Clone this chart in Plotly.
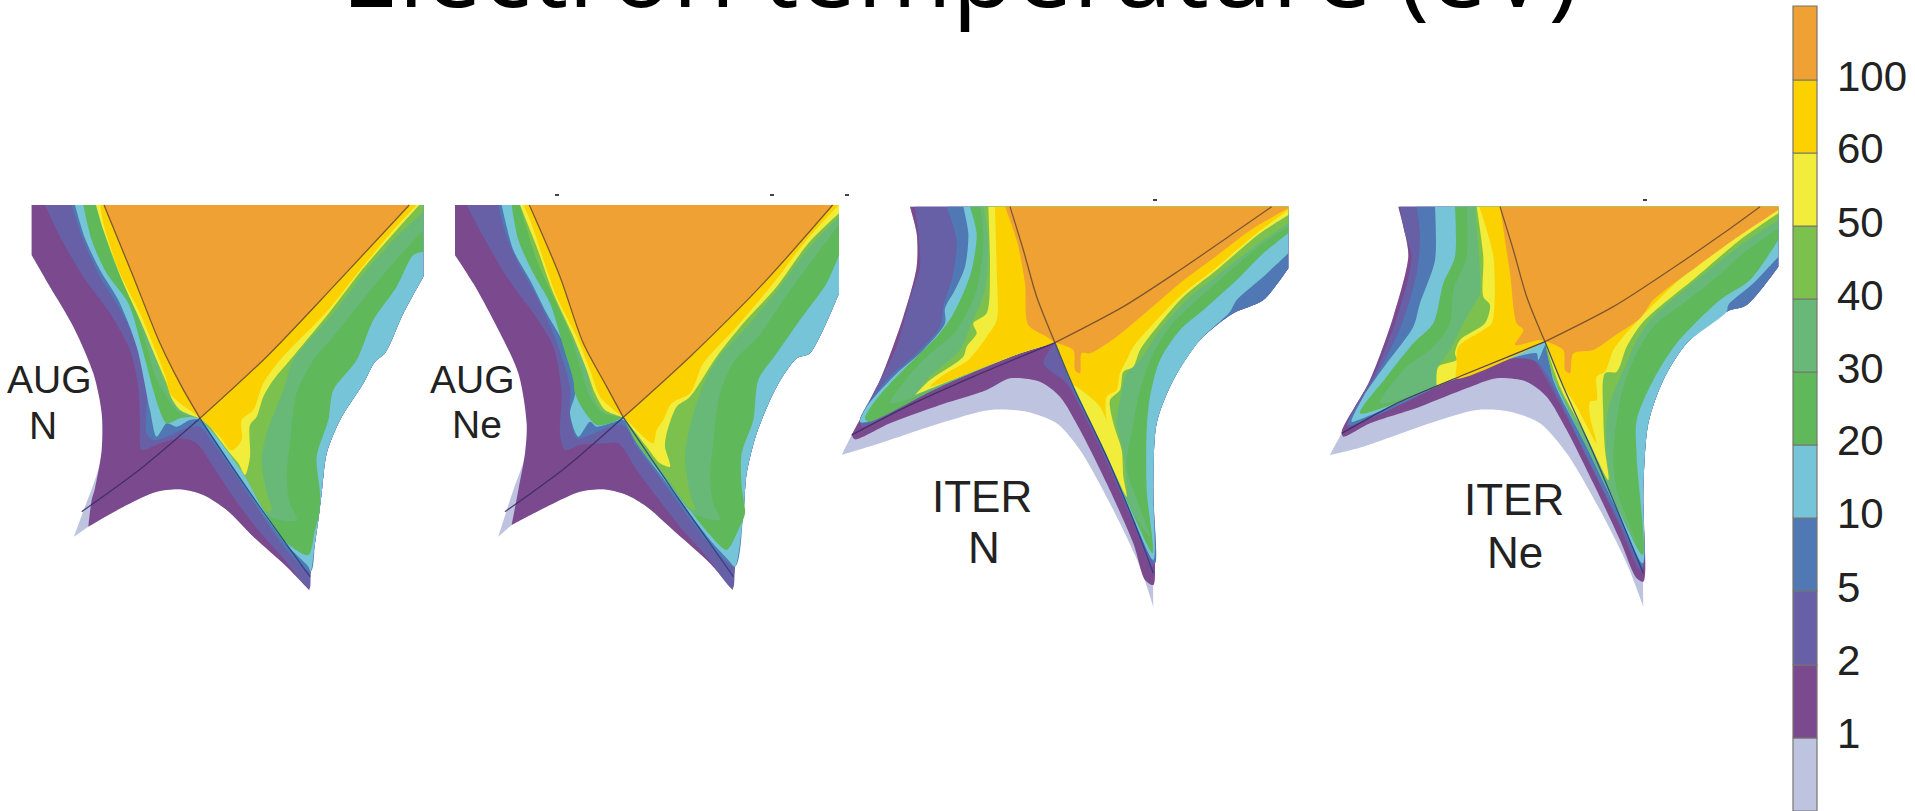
import plotly.graph_objects as go

COLORS = ["#bec4e0", "#7b4a8e", "#6860a6", "#4f78b5", "#76c4d8", "#5fb85a", "#68b978", "#7cc14e", "#f2ed3b", "#fbd200", "#efa233"]
TICK_LABELS = ["1", "2", "5", "10", "20", "30", "40", "50", "60", "100"]
BAR_EDGES = [811, 738, 665, 591, 518, 445, 372, 299, 226, 153, 80, 6]
TICK_Y = [733, 660, 587, 513, 440, 368, 295, 222, 148, 76]

A1_RIGHT = [(1270,290),(1210,400),(1155,520),(1125,545),(1090,610),(1020,720),(980,820),(965,940),(955,1020),(945,1090),(932,1175)]
A1 = [
 [(95,75),(1270,75)] + A1_RIGHT + [(928,1230),(860,1160),(760,1070),(680,990),(610,945),(540,928),(470,935),(380,975),(265,1040),(222,1070),(255,980),(285,900),(312,800),(312,700),(285,580),(225,440),(150,320),(95,225)],
 [(95,75),(1270,75)] + A1_RIGHT + [(928,1230),(860,1160),(760,1070),(680,990),(610,945),(540,928),(470,935),(380,975),(265,1040),(275,960),(285,925),(305,810),(305,700),(280,580),(220,440),(150,320),(95,225)],
 [(135,75),(1270,75)] + A1_RIGHT + [(928,1225),(850,1135),(770,1045),(700,950),(640,860),(590,790),(545,775),(480,790),(425,810),(420,720),(415,620),(390,510),(330,400),(250,290),(180,170)],
 [(215,75),(1270,75)] + A1_RIGHT + [(860,1110),(800,1025),(700,875),(640,790),(600,740),(560,745),(500,770),(460,780),(440,760),(440,620),(400,470),(350,370),(300,290),(250,180)],
 [(225,75),(1270,75)] + A1_RIGHT + [(925,1160),(860,1095),(800,1015),(700,865),(640,775),(600,720),(570,720),(530,740),(500,730),(470,770),(450,690),(410,500),(355,360),(300,270),(255,175)],
 [(250,75),(1270,75),(1270,215),(1240,225),(1190,320),(1120,420),(1070,540),(1000,630),(985,720),(950,830),(960,940),(958,1000),(945,1050),(925,1125),(850,1080),(800,1005),(730,880),(650,770),(600,715),(580,710),(540,715),(500,730),(475,680),(460,630),(425,500),(385,370),(320,280),(275,180)],
 [(300,75),(1270,75),(1270,150),(1170,260),(1080,370),(1000,470),(940,540),(890,640),(870,790),(860,890),(870,970),(890,1020),(810,1010),(730,880),(650,770),(600,715),(540,700),(500,650),(470,600),(440,500),(400,370),(350,250)],
 [(290,75),(1270,75),(1270,95),(1190,170),(1100,270),(1000,400),(880,540),(850,630),(800,760),(785,840),(800,940),(815,990),(800,995),(730,880),(650,770),(600,715),(540,690),(510,650),(490,600),(450,490),(400,370),(340,240)],
 [(288,75),(1258,75),(1190,150),(1090,265),(990,395),(870,540),(820,600),(790,650),(770,710),(750,735),(750,830),(735,885),(715,850),(690,820),(660,780),(630,740),(600,715),(540,690),(515,655),(500,610),(470,540),(420,420),(370,310),(310,150)],
 [(300,75),(1250,75),(1180,150),(1080,270),(980,395),(840,540),(790,610),(760,690),(725,720),(725,780),(700,810),(690,810),(660,770),(630,740),(605,718),(575,695),(540,670),(510,640),(500,600),(470,520),(420,400),(360,280),(310,130)],
 [(312,75),(1228,75),(1000,320),(800,530),(600,715),(545,620),(480,490),(400,290)],
]
A1_SEP1 = [(312,75),(400,290),(480,490),(545,620),(600,715),(700,865),(800,1010),(930,1190)]
A1_SEP2 = [(1228,75),(1000,320),(800,530),(600,715),(430,860),(245,995)]
A1_SHARP = [(95,75),(1270,75),(1270,290),(928,1230),(222,1070),(265,1040),(95,225),(600,715),(1270,215),(1270,150),(1270,95),(135,75),(215,75),(225,75),(250,75),(300,75),(290,75),(288,75),(1258,75),(1250,75),(312,75),(1228,75)]

A2_RIGHT = [(1227,340),(1140,520),(1100,535),(1040,620),(980,760),(950,880),(940,1000),(915,1160)]
A2 = [
 [(75,75),(1227,75)] + A2_RIGHT + [(908,1230),(840,1150),(740,1060),(650,980),(590,945),(520,928),(450,935),(360,975),(245,1035),(205,1070),(250,930),(285,830),(297,730),(270,580),(200,430),(130,310),(75,225)],
 [(75,75),(1227,75)] + A2_RIGHT + [(908,1230),(840,1150),(740,1060),(650,980),(590,945),(520,928),(450,935),(360,975),(245,1035),(265,930),(285,820),(290,730),(265,580),(195,430),(130,310),(75,225)],
 [(110,75),(1227,75)] + A2_RIGHT + [(908,1225),(830,1130),(750,1040),(680,950),(620,870),(565,790),(520,790),(450,795),(405,810),(390,760),(395,640),(370,500),(310,400),(230,290),(160,170)],
 [(205,75),(1227,75)] + A2_RIGHT + [(840,1095),(760,990),(680,880),(620,800),(580,735),(530,745),(480,765),(440,775),(420,700),(420,620),(370,460),(320,350),(275,270),(230,170)],
 [(215,75),(1227,75)] + A2_RIGHT + [(895,1140),(840,1080),(760,975),(680,870),(620,790),(580,720),(540,730),(500,740),(480,725),(445,770),(420,700),(435,640),(410,510),(350,400),(300,300),(250,210)],
 [(245,75),(1227,75),(1227,225),(1190,310),(1110,420),(1040,520),(985,600),(970,720),(935,820),(935,920),(945,1000),(925,1050),(890,1110),(840,1065),(760,965),(680,865),(620,790),(580,712),(540,730),(500,735),(460,690),(435,640),(430,600),(400,500),(360,370),(310,280),(265,180)],
 [(280,75),(1227,75),(1227,135),(1140,250),(1060,360),(985,470),(915,540),(870,640),(850,790),(840,890),(850,970),(870,1020),(790,1000),(700,885),(620,785),(580,712),(520,700),(480,650),(450,560),(420,460),(380,370),(330,240)],
 [(270,75),(1227,75),(1227,110),(1140,200),(1050,320),(960,430),(860,540),(810,640),(775,760),(765,840),(780,940),(795,990),(780,985),(700,880),(620,785),(580,712),(520,695),(490,650),(470,570),(430,480),(380,370),(320,240)],
 [(270,75),(1227,75),(1227,100),(1135,190),(1040,320),(940,430),(860,530),(780,650),(740,680),(710,760),(705,800),(720,860),(690,850),(650,800),(580,712),(525,690),(495,640),(470,570),(430,470),(370,340),(320,200)],
 [(280,75),(1227,75),(1130,180),(1030,310),(920,440),(820,550),(780,640),(725,670),(700,720),(680,750),(670,790),(640,770),(610,740),(580,712),(540,680),(510,650),(480,570),(440,470),(380,350),(300,120)],
 [(298,75),(1208,75),(1000,310),(780,530),(580,712),(530,620),(460,490),(390,290)],
]
A2_SEP1 = [(298,75),(390,290),(460,490),(530,620),(580,712),(680,860),(780,1005),(910,1190)]
A2_SEP2 = [(1208,75),(1000,310),(780,530),(580,712),(410,860),(225,995)]
A2_SHARP = [(75,75),(1227,75),(1227,340),(908,1230),(205,1070),(245,1035),(75,225),(580,712),(1227,225),(1227,135),(1227,110),(1227,100),(110,75),(205,75),(215,75),(245,75),(280,75),(270,75),(298,75),(1208,75)]

I1_RIGHT = [(1345,235),(1270,330),(1180,370),(1080,450),(1000,570),(950,700),(940,900)]
I1 = [
 [(210,50),(1345,50)] + I1_RIGHT + [(940,1250),(900,1130),(820,960),(720,780),(650,700),(560,665),(450,660),(300,700),(120,760),(5,795),(35,735),(120,570),(190,380),(230,230),(230,130)],
 [(210,50),(1345,50)] + I1_RIGHT + [(945,1110),(940,1185),(915,1170),(880,1060),(800,880),(720,720),(660,620),(600,575),(510,565),(440,600),(300,645),(150,700),(45,748),(35,735),(120,570),(190,380),(230,230),(230,130)],
 [(225,50),(1345,50)] + I1_RIGHT + [(945,1120),(935,1130),(880,1000),(800,815),(720,650),(680,580),(610,520),(645,458),(540,490),(300,590),(65,710),(60,690),(100,610),(170,470),(215,310),(240,230),(235,130)],
 [(320,50),(1345,50)] + I1_RIGHT + [(945,1120),(880,990),(800,800),(690,580),(655,480),(645,458),(540,490),(300,590),(75,700),(60,690),(140,570),(230,490),(300,410),(310,350),(340,250),(350,150)],
 [(370,50),(1345,50),(1345,190),(1270,260),(1190,330),(1170,365),(1080,450),(1000,570),(950,700),(940,900),(940,1110),(880,985),(800,795),(700,590),(645,458),(540,490),(300,590),(75,697),(60,695),(80,650),(160,560),(250,480),(315,400),(315,355),(345,300),(375,230),(385,130)],
 [(390,50),(1345,50),(1345,130),(1270,190),(1190,270),(1090,360),(1020,420),(960,510),(930,620),(920,720),(920,900),(938,1090),(880,975),(800,795),(700,590),(645,458),(540,490),(300,590),(85,695),(75,685),(100,640),(160,570),(230,500),(290,440),(335,380),(370,310),(395,240),(410,130)],
 [(420,50),(1345,50),(1345,110),(1270,160),(1150,260),(1060,340),(990,410),(940,490),(900,600),(880,700),(860,830),(880,900),(930,1040),(880,970),(800,795),(700,590),(645,458),(540,490),(225,620),(150,640),(240,520),(350,420),(410,300),(430,150)],
 [(430,50),(1345,50),(1345,100),(1270,150),(1140,250),(1040,330),(960,420),(900,510),(860,550),(840,630),(830,700),(850,790),(860,920),(800,795),(700,590),(645,458),(540,490),(225,615),(270,560),(360,480),(395,400),(435,300),(445,150)],
 [(445,50),(1345,50),(1345,75),(1260,130),(1130,240),(1030,320),(960,400),(900,480),(880,530),(850,545),(840,600),(810,630),(820,700),(845,780),(850,860),(860,920),(800,795),(720,630),(700,590),(645,458),(540,490),(225,615),(270,570),(370,500),(380,470),(410,430),(400,400),(440,370),(450,240)],
 [(465,50),(1345,50),(1345,60),(1250,130),(1120,240),(1030,310),(950,390),(880,470),(860,510),(840,550),(830,600),(800,620),(800,690),(810,720),(780,650),(710,590),(700,585),(645,458),(540,490),(270,590),(310,555),(385,510),(440,440),(470,390),(470,240)],
 [(495,50),(1345,50),(1345,55),(1240,115),(1120,205),(1020,280),(950,340),(830,440),(750,490),(725,490),(720,550),(705,540),(700,480),(645,458),(620,440),(565,405),(555,280),(530,150)],
]
I1_SEP1 = [(510,50),(550,180),(590,320),(645,458),(700,590),(800,800),(880,990),(940,1150)]
I1_SEP2 = [(1295,50),(1180,130),(1020,240),(850,350),(645,458),(400,560),(200,650),(35,735)]
I1_SHARP = [(210,50),(1345,50),(1345,235),(940,1250),(5,795),(35,735),(645,458),(1345,190),(1345,130),(1345,110),(1345,100),(1345,75),(1345,60),(1345,55),(225,50),(320,50),(370,50),(390,50),(420,50),(430,50),(445,50),(465,50),(495,50),(225,615),(225,620)]

I2_RIGHT = [(1375,230),(1280,345),(1220,365),(1100,460),(1030,570),(985,700),(970,900)]
I2 = [
 [(235,50),(1375,50)] + I2_RIGHT + [(970,1250),(920,1120),(840,960),(740,790),(660,700),(570,665),(470,660),(330,700),(130,770),(30,795),(70,720),(150,570),(220,380),(265,200),(255,130)],
 [(235,50),(1375,50)] + I2_RIGHT + [(970,1175),(950,1165),(900,1050),(820,880),(740,720),(680,620),(620,575),(530,565),(440,595),(300,650),(150,700),(70,740),(65,725),(150,570),(220,380),(265,200),(255,130)],
 [(240,50),(1375,50)] + I2_RIGHT + [(970,1130),(960,1140),(900,1010),(820,840),(740,680),(680,570),(640,510),(580,505),(490,535),(350,590),(90,710),(80,710),(100,660),(165,550),(235,370),(275,200),(255,130)],
 [(290,50),(1375,50)] + I2_RIGHT + [(968,1130),(900,1000),(800,800),(700,590),(650,515),(580,505),(490,535),(350,590),(85,705),(130,620),(200,500),(250,390),(290,250),(300,130)],
 [(345,50),(1375,50),(1375,200),(1300,280),(1225,345),(1220,365),(1100,460),(1030,570),(985,700),(970,900),(968,1120),(900,980),(800,770),(700,570),(680,460),(655,510),(650,490),(575,505),(350,590),(115,690),(95,695),(130,620),(200,520),(280,410),(300,340),(345,210)],
 [(405,50),(1375,50),(1375,150),(1290,270),(1200,330),(1070,460),(1000,570),(950,690),(950,800),(968,1095),(900,970),(800,770),(700,560),(675,455),(350,590),(120,670),(200,560),(280,460),(340,400),(370,280),(405,200)],
 [(440,50),(1375,50),(1375,115),(1270,190),(1180,270),(1090,340),(1000,410),(950,490),(910,590),(890,690),(880,800),(890,900),(950,1060),(900,970),(800,770),(700,560),(675,455),(350,590),(180,640),(260,530),(340,470),(390,400),(400,300),(440,200)],
 [(465,50),(1375,50),(1375,90),(1270,160),(1130,270),(1000,380),(950,450),(920,520),(880,610),(860,680),(860,800),(870,870),(800,740),(700,560),(675,455),(350,590),(350,540),(390,480),(430,400),(470,330),(480,310)],
 [(470,50),(1375,50),(1375,70),(1260,150),(1130,260),(970,395),(920,470),(890,545),(855,550),(850,680),(855,780),(865,870),(800,740),(720,590),(675,455),(350,590),(355,530),(410,510),(405,490),(420,450),(495,400),(510,345),(490,320),(490,200)],
 [(478,50),(1375,50),(1375,55),(1250,140),(1100,250),(960,385),(910,440),(880,480),(855,545),(830,560),(830,630),(810,635),(810,680),(830,760),(770,650),(720,570),(675,455),(410,565),(410,525),(415,470),(490,420),(515,400),(520,200)],
 [(540,50),(1375,50),(1375,60),(1240,150),(1130,230),(1000,330),(960,385),(880,440),(820,480),(760,490),(750,550),(735,540),(730,480),(680,455),(660,450),(585,465),(610,420),(590,400),(570,250)],
]
I2_SEP1 = [(540,50),(580,180),(620,320),(675,455),(730,590),(820,790),(900,980),(970,1150)]
I2_SEP2 = [(1320,50),(1210,130),(1050,240),(880,350),(675,455),(430,555),(230,640),(65,730)]
I2_SHARP = [(235,50),(1375,50),(1375,230),(970,1250),(30,795),(70,720),(675,455),(1375,200),(1375,150),(1375,115),(1375,90),(1375,70),(1375,60),(1375,55),(240,50),(290,50),(345,50),(405,50),(440,50),(465,50),(470,50),(478,50),(540,50),(350,590)]

PANELS = [(0, 180, A1, A1_SEP1, A1_SEP2, A1_SHARP, (600,715)), (430, 180, A2, A2_SEP1, A2_SEP2, A2_SHARP, (580,712)),
          (840, 190, I1, I1_SEP1, I1_SEP2, I1_SHARP, (645,458)), (1320, 190, I2, I2_SEP1, I2_SEP2, I2_SHARP, (675,455))]

PANEL_TEXT = [("AUG", 49, 379, 39), ("N", 43, 425, 39), ("AUG", 472, 379, 39), ("Ne", 477, 424, 39),
              ("ITER", 982, 496, 44), ("N", 984, 547, 44), ("ITER", 1514, 499, 44), ("Ne", 1515, 552, 44)]
SPECKS = [(557, 195), (772, 195), (847, 195), (1155, 200), (1645, 200)]

fig = go.Figure()

def conv(pts, ox, oy):
    return [ox + p[0] / 3 for p in pts], [oy + p[1] / 3 for p in pts]

def band(pts, sharp, ox, oy, color):
    closed = pts + pts[:1]
    dbl = []
    for p in closed:
        dbl.append(p)
        if p in sharp:
            dbl.append(p)
    x, y = conv(dbl, ox, oy)
    fig.add_trace(go.Scatter(x=x, y=y, mode="lines", fill="toself", fillcolor=color,
                             line=dict(width=0, color=color, shape="spline", smoothing=0.8, simplify=False),
                             hoverinfo="skip", showlegend=False))

def sep(pts, ox, oy, color):
    x, y = conv(pts, ox, oy)
    fig.add_trace(go.Scatter(x=x, y=y, mode="lines",
                             line=dict(width=1.3, color=color, shape="spline", smoothing=0.8),
                             opacity=0.85, hoverinfo="skip", showlegend=False))

for ox, oy, bands, s1, s2, sharp, xpt in PANELS:
    for lvl, pts in enumerate(bands):
        band(pts, sharp, ox, oy, COLORS[lvl])
    i1 = s1.index(xpt)
    i2 = s2.index(xpt)
    sep(s1[:i1 + 1], ox, oy, "#6a4a30")
    sep(s2[:i2 + 1], ox, oy, "#6a4a30")
    sep(s1[i1:], ox, oy, "#25407f")
    sep(s2[i2:], ox, oy, "#3a2a63")

for sx, sy in SPECKS:
    fig.add_trace(go.Scatter(x=[sx - 2, sx + 2], y=[sy, sy], mode="lines", line=dict(width=2, color="#444"),
                             hoverinfo="skip", showlegend=False))

# colour bar
BAR_X = [1793, 1817]
for i, c in enumerate(COLORS):
    y0, y1 = BAR_EDGES[i], BAR_EDGES[i + 1]
    fig.add_trace(go.Scatter(x=[BAR_X[0], BAR_X[1], BAR_X[1], BAR_X[0], BAR_X[0]], y=[y0, y0, y1, y1, y0],
                             mode="lines", fill="toself", fillcolor=c, line=dict(width=1.2, color="#77756f"),
                             hoverinfo="skip", showlegend=False))

annos = []
for lab, ty in zip(TICK_LABELS, TICK_Y):
    annos.append(dict(x=1835, y=ty, text=lab, xanchor="left", yanchor="middle", showarrow=False,
                      font=dict(family="Liberation Sans", size=42, color="#222")))
for t, tx, ty, fs in PANEL_TEXT:
    annos.append(dict(x=tx, y=ty, text=t, xanchor="center", yanchor="middle", showarrow=False,
                      font=dict(family="Liberation Sans", size=fs, color="#222")))
annos.append(dict(x=960, y=39, text="Electron temperature (eV)", xanchor="center", yanchor="bottom", showarrow=False,
                  font=dict(family="Open Sans", size=103, color="#000")))

fig.update_layout(width=1915, height=811, margin=dict(l=0, r=0, t=0, b=0), plot_bgcolor="white", paper_bgcolor="white",
                  showlegend=False, annotations=annos,
                  xaxis=dict(range=[0, 1915], visible=False, fixedrange=True),
                  yaxis=dict(range=[811, 0], visible=False, fixedrange=True))
fig.write_html("out.html", config=dict(displayModeBar=False),
               post_script="document.body.style.margin='0';")
